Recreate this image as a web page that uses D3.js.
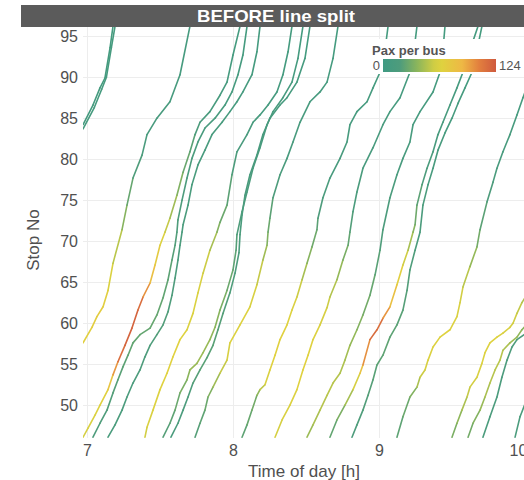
<!DOCTYPE html>
<html><head><meta charset="utf-8">
<script src="https://cdn.jsdelivr.net/npm/d3@7"></script>
<style>body{margin:0;background:#fff}svg{display:block}</style>
</head><body><svg id="c" width="524" height="480"></svg>
<script>
const titleText = "BEFORE line split";
const xLabel = "Time of day [h]";
const yLabel = "Stop No";
const legendTitle = "Pax per bus";
const xTicks = [7, 8, 9, 10];
const yTicks = [50, 55, 60, 65, 70, 75, 80, 85, 90, 95];
const paxRange = [0, 124];
const colorStops = [0, 0.15, 0.3, 0.45, 0.52, 0.7, 0.85, 1];
const colorValues = ["#3f9a82", "#4e9c7c", "#8ab55c", "#cfcd44", "#dfd23f", "#eeb845", "#e27f3e", "#cf5a3e"];

// each bus: [times (h)], [stop no], [pax per bus]
const bus01 = [[6.973,7.041,7.089,7.123,7.158,7.178],[84.2,86.6,88.7,89.9,93.6,96.2],[8,8,8,8,8,8]];
const bus02 = [[6.973,7.050,7.100,7.133,7.167,7.192],[83.7,86.3,88.5,90.0,93.6,96.2],[10,10,10,10,10,10]];
const bus03 = [[6.973,7.034,7.068,7.110,7.144,7.178,7.240,7.274,7.315,7.377,7.411,7.479,7.568,7.637,7.705],
  [57.6,59.5,60.8,62.0,64.0,67.3,71.4,74.4,77.7,80.5,83.0,85.0,87.0,90.3,96.2],
  [66,68,70,70,66,58,42,30,22,16,14,12,12,10,10]];
const bus04 = [[6.973,7.007,7.055,7.089,7.144,7.178,7.212,7.260,7.308,7.349,7.384,7.432,7.466,7.500,7.534,7.568,7.616,7.658,7.705,7.740,7.774,7.842,7.911,7.959,8.000,8.048],
  [46.1,47.2,48.8,50.0,51.9,53.7,55.3,57.3,59.4,61.6,63.2,64.9,67.1,69.5,71.1,72.8,75.6,78.4,80.9,83.0,84.5,85.8,87.8,89.4,92.7,96.2],
  [58,60,62,64,68,85,110,118,120,118,110,88,74,68,58,48,38,30,24,20,15,12,10,10,8,8]];
const bus05 = [[7.041,7.089,7.137,7.178,7.212,7.247,7.281,7.315,7.363,7.432,7.479,7.521,7.555,7.582,7.603,7.616,7.623,7.651,7.685,7.719,7.760,7.808,7.877,7.945,7.993,8.034,8.068,8.096],
  [46.1,47.8,49.4,51.5,53.1,54.7,56.1,57.6,58.6,59.4,61.0,63.1,65.3,67.7,69.5,71.1,72.6,75.0,77.7,80.1,82.1,83.8,85.0,86.6,88.2,90.3,92.7,96.2],
  [18,18,20,20,22,22,24,25,25,26,26,25,24,22,20,20,18,18,16,15,14,12,12,10,10,10,8,8]];
const bus06 = [[7.144,7.192,7.240,7.274,7.315,7.363,7.397,7.432,7.479,7.521,7.555,7.582,7.603,7.623,7.637,7.651,7.658,7.692,7.719,7.760,7.808,7.856,7.925,7.979,8.027,8.068,8.130,8.164,8.185],
  [46.1,47.6,49.4,51.0,52.7,54.3,55.9,57.3,58.6,59.8,61.4,63.4,65.5,67.7,69.5,71.1,72.0,74.4,76.9,79.3,81.1,83.0,84.5,85.8,87.0,88.2,90.3,93.1,96.2],
  [14,14,15,16,16,18,18,18,20,20,20,18,18,16,16,15,15,14,14,14,12,12,12,10,10,10,10,8,8]];
const bus07 = [[7.397,7.411,7.452,7.500,7.548,7.589,7.637,7.685,7.726,7.760,7.795,7.842,7.890,7.911,7.959,7.993,8.027,8.096,8.137,8.185,8.240,8.301,8.342,8.377,8.404],
  [46.1,47.3,49.4,51.9,53.9,55.9,58.0,59.2,61.2,63.7,66.1,68.9,71.1,72.3,74.4,78.1,80.9,83.0,84.5,85.4,86.6,88.2,90.3,93.1,96.2],
  [55,60,62,64,65,66,65,63,62,62,60,50,40,30,25,20,15,12,12,10,10,10,8,8,8]];
const bus08 = [[7.521,7.568,7.603,7.637,7.685,7.705,7.753,7.795,7.842,7.877,7.911,7.959,8.000,8.021,8.027,8.062,8.096,8.137,8.185,8.233,8.274,8.342,8.404,8.445,8.479],
  [46.1,47.8,49.4,51.5,53.1,54.3,55.1,56.4,58.0,59.5,61.6,64.0,66.5,68.9,70.8,73.6,76.0,78.9,81.4,84.2,85.8,87.5,89.4,92.3,96.2],
  [20,22,25,30,35,40,42,42,40,38,35,30,25,22,20,18,16,15,14,12,12,10,10,8,8]];
const bus09 = [[7.575,7.623,7.658,7.692,7.726,7.774,7.822,7.863,7.897,7.932,7.979,8.014,8.041,8.048,8.062,8.082,8.116,8.164,8.205,8.253,8.322,8.370,8.438,8.493,8.527],
  [46.1,47.8,49.4,51.0,52.7,54.3,55.8,57.3,59.2,61.2,63.7,66.1,68.6,70.8,73.2,75.6,78.1,80.5,83.0,85.0,86.6,87.5,89.4,92.3,96.2],
  [15,15,16,18,20,22,22,22,22,20,20,18,16,15,15,14,14,12,12,12,10,10,10,8,8]];
const bus10 = [[7.740,7.774,7.808,7.829,7.863,7.911,7.959,7.979,8.048,8.116,8.164,8.205,8.233,8.240,8.253,8.274,8.322,8.370,8.411,8.459,8.527,8.596,8.644,8.685,8.719],
  [46.1,47.8,49.4,51.0,52.2,53.9,55.5,57.6,59.8,62.0,64.7,67.7,69.5,71.1,72.8,75.3,78.1,80.1,82.1,84.5,87.0,88.2,89.4,92.3,96.2],
  [20,22,25,30,38,48,58,62,64,63,58,48,38,30,25,20,16,14,12,12,10,10,10,8,8]];
const bus11 = [[8.062,8.096,8.130,8.164,8.185,8.219,8.253,8.288,8.322,8.370,8.404,8.438,8.473,8.507,8.541,8.575,8.582,8.616,8.664,8.733,8.781,8.801,8.849,8.918,8.959,9.007,9.041,9.062],
  [46.1,47.6,49.4,51.2,51.9,52.5,54.3,56.1,58.0,59.8,61.6,63.2,65.3,67.3,69.3,71.4,72.8,75.3,77.7,80.1,82.1,84.2,85.8,87.0,88.7,90.6,93.3,96.2],
  [22,25,28,32,45,58,64,66,66,65,63,60,50,40,32,25,20,16,14,12,12,10,10,10,10,8,8,8]];
const bus12 = [[8.288,8.336,8.390,8.438,8.479,8.514,8.548,8.596,8.644,8.664,8.712,8.753,8.788,8.801,8.822,8.849,8.890,8.959,9.027,9.075,9.144,9.212,9.240,9.260],
  [46.1,48.2,50.0,51.9,54.3,56.1,58.0,59.8,61.9,63.2,65.3,67.7,69.5,71.1,73.6,76.0,78.9,81.4,84.2,85.8,87.5,90.6,93.3,96.2],
  [58,60,62,64,66,66,64,62,58,52,44,36,28,22,18,15,14,12,12,10,10,8,8,8]];
const bus13 = [[8.507,8.548,8.596,8.644,8.685,8.733,8.767,8.801,8.849,8.890,8.938,8.973,9.007,9.027,9.075,9.123,9.164,9.212,9.233,9.281,9.370,9.418,9.438,9.452],
  [46.1,47.6,49.4,51.2,52.7,53.9,55.5,57.3,59.2,61.0,63.4,65.9,68.9,71.4,75.3,78.1,80.1,82.1,84.2,85.8,88.2,90.6,93.3,96.2],
  [40,44,48,50,50,48,46,42,38,32,28,24,20,18,16,14,12,12,10,10,10,8,8,8]];
const bus14 = [[8.664,8.712,8.767,8.822,8.870,8.890,8.938,8.986,9.027,9.075,9.123,9.164,9.199,9.233,9.247,9.260,9.295,9.329,9.370,9.404,9.438,9.486,9.534,9.575,9.623,9.678],
  [46.1,48.2,50.0,51.9,53.9,54.9,58.0,59.2,60.6,62.0,64.7,67.1,68.9,71.1,72.0,74.4,76.9,78.9,80.9,83.0,84.5,86.6,88.7,90.6,93.3,96.2],
  [22,28,38,52,68,88,112,118,108,88,72,62,50,40,32,25,20,16,14,12,12,10,10,8,8,8]];
const bus15 = [[8.815,8.849,8.890,8.925,8.959,8.986,9.027,9.075,9.123,9.164,9.192,9.212,9.247,9.281,9.301,9.336,9.370,9.404,9.452,9.500,9.541,9.589,9.637,9.671,9.705],
  [46.1,47.6,49.4,51.2,53.1,54.9,56.1,58.3,59.8,61.6,64.0,66.5,68.9,71.1,74.4,76.9,78.9,81.1,83.2,85.0,86.8,88.7,90.6,93.3,96.2],
  [18,18,20,20,22,22,24,24,22,22,20,20,18,16,15,14,12,12,10,10,10,8,8,8,8]];
const bus16 = [[9.123,9.164,9.212,9.260,9.281,9.315,9.336,9.370,9.418,9.486,9.534,9.555,9.575,9.623,9.671,9.692,9.740,9.781,9.808,9.849,9.897,9.945,9.986,10.03],
  [46.1,48.6,51.0,52.2,53.4,54.3,55.5,57.1,58.3,59.2,60.8,62.5,64.4,66.9,69.3,71.4,74.8,77.2,78.9,80.9,83.0,85.4,87.5,89.6],
  [22,25,30,40,52,58,62,63,64,64,62,60,55,45,35,25,20,16,14,12,12,10,10,10]];
const bus17 = [[9.500,9.534,9.568,9.603,9.623,9.671,9.705,9.726,9.760,9.808,9.849,9.897,9.918,9.945,9.979,10.01],
  [46.1,47.8,49.4,51.0,52.2,53.4,55.1,56.4,57.6,58.3,58.8,59.5,60.0,61.2,62.5,63.4],
  [30,35,42,50,56,60,62,63,64,64,62,60,58,55,50,45]];
const bus18 = [[9.610,9.644,9.692,9.726,9.760,9.795,9.829,9.849,9.897,9.945,9.979,10.01],
  [46.1,47.8,49.4,51.0,52.7,54.3,55.5,56.7,57.6,58.3,59.2,59.8],
  [28,32,38,44,48,50,50,48,45,40,38,35]];
const bus19 = [[9.712,9.760,9.808,9.842,9.877,9.911,9.945,10.01],
  [46.1,48.6,51.0,53.4,55.5,57.1,58.0,58.8],
  [15,15,16,16,18,18,18,18]];
const bus20 = [[9.932,9.966,10.01],[46.1,48.6,50.6],[15,15,15]];
const buses = [bus01,bus02,bus03,bus04,bus05,bus06,bus07,bus08,bus09,bus10,bus11,bus12,bus13,bus14,bus15,bus16,bus17,bus18,bus19,bus20];

const FONT = "'Liberation Sans', Arial, sans-serif";
const svg = d3.select("#c");
const P = {l: 83, r: 524, t: 27, b: 438};
const x = d3.scaleLinear().domain([7, 10]).range([87, 525]);
const y = d3.scaleLinear().domain([46, 96.12]).range([438, 27]);
const color = d3.scaleLinear()
  .domain(colorStops.map(d => paxRange[0] + d * (paxRange[1] - paxRange[0])))
  .range(colorValues).interpolate(d3.interpolateRgb).clamp(true);

// title strip
svg.append("rect").attr("x", 21).attr("y", 5).attr("width", 503).attr("height", 22).attr("fill", "#5b5b5b");
svg.append("text").attr("x", 276).attr("y", 22).attr("text-anchor", "middle")
  .attr("fill", "#ffffff").attr("font-family", FONT).attr("font-weight", "bold")
  .attr("font-size", 17).attr("textLength", 158).attr("lengthAdjust", "spacingAndGlyphs").text(titleText);

// grid
const grid = svg.append("g").attr("stroke", "#ededed").attr("stroke-width", 1);
grid.selectAll(".gy").data(yTicks).join("line")
  .attr("x1", P.l).attr("x2", P.r).attr("y1", d => Math.round(y(d)) + 0.5).attr("y2", d => Math.round(y(d)) + 0.5);
grid.selectAll(".gx").data(xTicks).join("line")
  .attr("y1", P.t).attr("y2", P.b).attr("x1", d => Math.round(x(d)) + 0.5).attr("x2", d => Math.round(x(d)) + 0.5);

// clip
svg.append("clipPath").attr("id", "clip").append("rect")
  .attr("x", P.l).attr("y", P.t).attr("width", P.r - P.l).attr("height", P.b - P.t);
const plot = svg.append("g").attr("clip-path", "url(#clip)")
  .attr("fill", "none").attr("stroke-width", 1.6).attr("stroke-linecap", "round").attr("stroke-linejoin", "round");

buses.forEach(b => {
  const [ts, ss, ps] = b;
  const segs = [];
  for (let i = 0; i < ts.length - 1; i++) {
    segs.push({x1: ts[i], y1: ss[i], x2: ts[i + 1], y2: ss[i + 1], p: (ps[i] + ps[i + 1]) / 2});
  }
  plot.append("g").selectAll("line").data(segs).join("line")
    .attr("x1", d => x(d.x1)).attr("y1", d => y(d.y1))
    .attr("x2", d => x(d.x2)).attr("y2", d => y(d.y2))
    .attr("stroke", d => color(d.p));
});

// axes
const xAxis = svg.append("g").attr("transform", `translate(0,${P.b})`)
  .call(d3.axisBottom(x).tickValues(xTicks).tickSize(0).tickPadding(7).tickFormat(d3.format("d")));
xAxis.select(".domain").remove();
xAxis.selectAll("text").attr("font-family", FONT).attr("font-size", 16).attr("fill", "#505050")
  .attr("dx", d => d === xTicks[xTicks.length - 1] ? -7 : 0);
const yAxis = svg.append("g").attr("transform", `translate(${P.l},0)`)
  .call(d3.axisLeft(y).tickValues(yTicks).tickSize(0).tickPadding(5).tickFormat(d3.format("d")));
yAxis.select(".domain").remove();
yAxis.selectAll("text").attr("font-family", FONT).attr("font-size", 16).attr("fill", "#505050");

svg.append("text").attr("x", 304).attr("y", 477).attr("text-anchor", "middle")
  .attr("font-family", FONT).attr("font-size", 17).attr("fill", "#505050").text(xLabel);
svg.append("text").attr("transform", "translate(39,240) rotate(-90)").attr("text-anchor", "middle")
  .attr("font-family", FONT).attr("font-size", 17).attr("fill", "#505050").text(yLabel);

// legend
const lg = svg.append("g");
lg.append("rect").attr("x", 367).attr("y", 39).attr("width", 157).attr("height", 35).attr("fill", "#ffffff");
const grad = svg.append("defs").append("linearGradient").attr("id", "paxgrad");
grad.selectAll("stop").data(colorStops).join("stop")
  .attr("offset", d => d).attr("stop-color", (d, i) => colorValues[i]);
lg.append("rect").attr("x", 383).attr("y", 59).attr("width", 113).attr("height", 13).attr("fill", "url(#paxgrad)");
lg.append("text").attr("x", 372).attr("y", 55).attr("font-family", FONT).attr("font-weight", "bold")
  .attr("font-size", 13).attr("fill", "#555").text(legendTitle);
lg.append("text").attr("x", 380).attr("y", 70).attr("text-anchor", "end").attr("font-family", FONT)
  .attr("font-size", 13).attr("fill", "#555").text(paxRange[0]);
lg.append("text").attr("x", 499).attr("y", 70).attr("font-family", FONT)
  .attr("font-size", 13).attr("fill", "#555").text(paxRange[1]);
</script></body></html>
